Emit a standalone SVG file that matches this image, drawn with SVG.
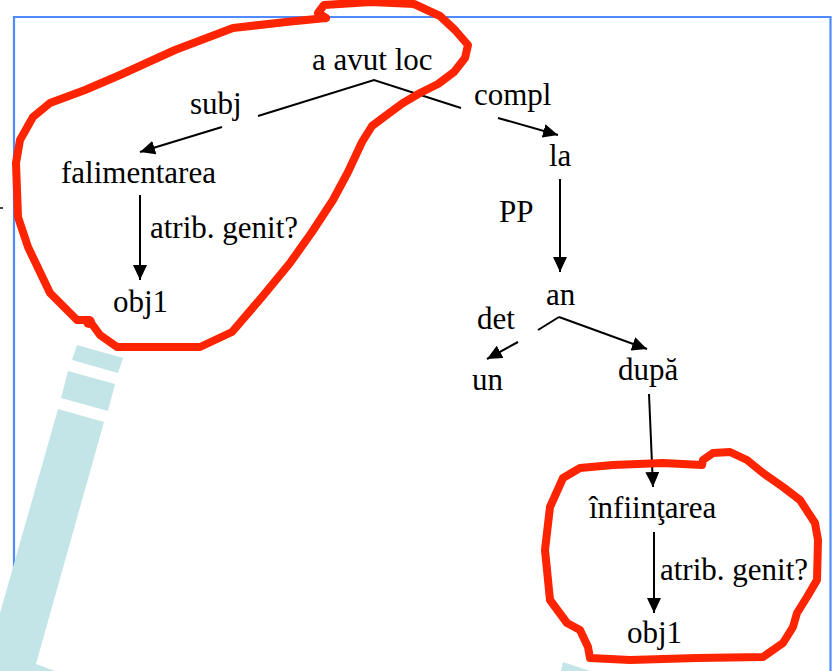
<svg xmlns="http://www.w3.org/2000/svg" width="832" height="671" viewBox="0 0 832 671">
  <defs>
    <marker id="arrow" markerUnits="userSpaceOnUse" viewBox="0 0 15 14" refX="15" refY="7" markerWidth="15" markerHeight="14" orient="auto">
      <path d="M0,0 L15,7 L0,14 z" fill="#000"/>
    </marker>
    <style>
      .frame { fill: none; stroke: #4f8bff; stroke-width: 2.2; }
      .pen { fill: #c4e5e8; }
      .edge { fill: none; stroke: #000; stroke-width: 2; }
      .arr { marker-end: url(#arrow); }
      .lbl { font-family: "Liberation Serif", "Times New Roman", serif; font-size: 31px; fill: #000; }
      .ink { fill: none; stroke: #ff2400; stroke-width: 8; stroke-linejoin: round; stroke-linecap: round; }
    </style>
  </defs>

  <rect width="832" height="671" fill="#fff"/>

  <!-- slide frame -->
  <path class="frame" d="M14,690 V17 H830.5 V690"/>
  <path d="M0,208 H3" stroke="#000" stroke-width="1.5"/>

  <!-- marker pen -->
  <g id="pen">
    <polygon class="pen" points="77,345 123,358 118,373 72,360"/>
    <polygon class="pen" points="68,371 115,384 108,411 61,398"/>
    <polygon class="pen" points="58,409 104,422 36,664 55,671 0,671 0,613"/>
    <polygon class="pen" points="563,662 590,671 561,671"/>
  </g>

  <!-- dependency edges -->
  <g id="edges">
    <path class="edge" d="M258,116 L374,80 L461,108"/>
    <path class="edge arr" d="M222,127 L140,152"/>
    <path class="edge arr" d="M498,118 L558,135"/>
    <path class="edge arr" d="M140,195 V280"/>
    <path class="edge arr" d="M560,179 V272"/>
    <path class="edge" d="M538,330 L559,317"/>
    <path class="edge arr" d="M518,342 L487,359"/>
    <path class="edge arr" d="M559,317 L647,349"/>
    <path class="edge arr" d="M649,394 L653,487"/>
    <path class="edge arr" d="M654,532 V613"/>
  </g>

  <!-- words -->
  <g id="n-a-avut-loc"><text class="lbl" x="312" y="70">a avut loc</text></g>
  <g id="n-falimentarea"><text class="lbl" x="61" y="183">falimentarea</text></g>
  <g id="n-obj1-a"><text class="lbl" x="113" y="312">obj1</text></g>
  <g id="n-la"><text class="lbl" x="549" y="166">la</text></g>
  <g id="n-an"><text class="lbl" x="546" y="305">an</text></g>
  <g id="n-un"><text class="lbl" x="472" y="390">un</text></g>
  <g id="n-dupa"><text class="lbl" x="618" y="380">după</text></g>
  <g id="n-infiintarea"><text class="lbl" x="589" y="518">înfiinţarea</text></g>
  <g id="n-obj1-b"><text class="lbl" x="627" y="643">obj1</text></g>

  <!-- edge labels -->
  <g id="labels">
    <text class="lbl" x="190" y="114">subj</text>
    <text class="lbl" x="474" y="105">compl</text>
    <text class="lbl" x="150" y="238">atrib. genit?</text>
    <text class="lbl" x="499" y="222">PP</text>
    <text class="lbl" x="477" y="329">det</text>
    <text class="lbl" x="660" y="580">atrib. genit?</text>
  </g>

  <!-- hand-drawn circles -->
  <g id="ink">
    <path class="ink" d="M326,18 L318,13 L324,5 L371,2 L414,4 L440,16 L455,30 L468,45 L465,58 L454,72 L438,84 L420,93 L403,103 L388,114 L372,126 L362,142 L348,172 L333,200 L312,232 L290,263 L262,297 L232,332 L200,347 L117,347 L100,335 L89,320 L77,320 L50,293 L28,247 L18,217 L16,163 L20,140 L33,117 L50,103 L85,90 L120,75 L175,50 L233,28 L286,22 L326,18"/>
    <circle cx="89" cy="322" r="6" fill="#ff2400"/>
    <path class="ink" d="M702,465 L663,463 L613,465 L580,468 L563,478 L550,507 L545,550 L550,600 L567,623 L580,630 L588,647 L590,658 L630,660 L697,658 L763,657 L783,643 L793,627 L797,613 L807,597 L817,580 L818,540 L815,523 L800,500 L783,487 L763,473 L747,460 L730,452 L713,453 L703,460 Z"/>
  </g>
</svg>
